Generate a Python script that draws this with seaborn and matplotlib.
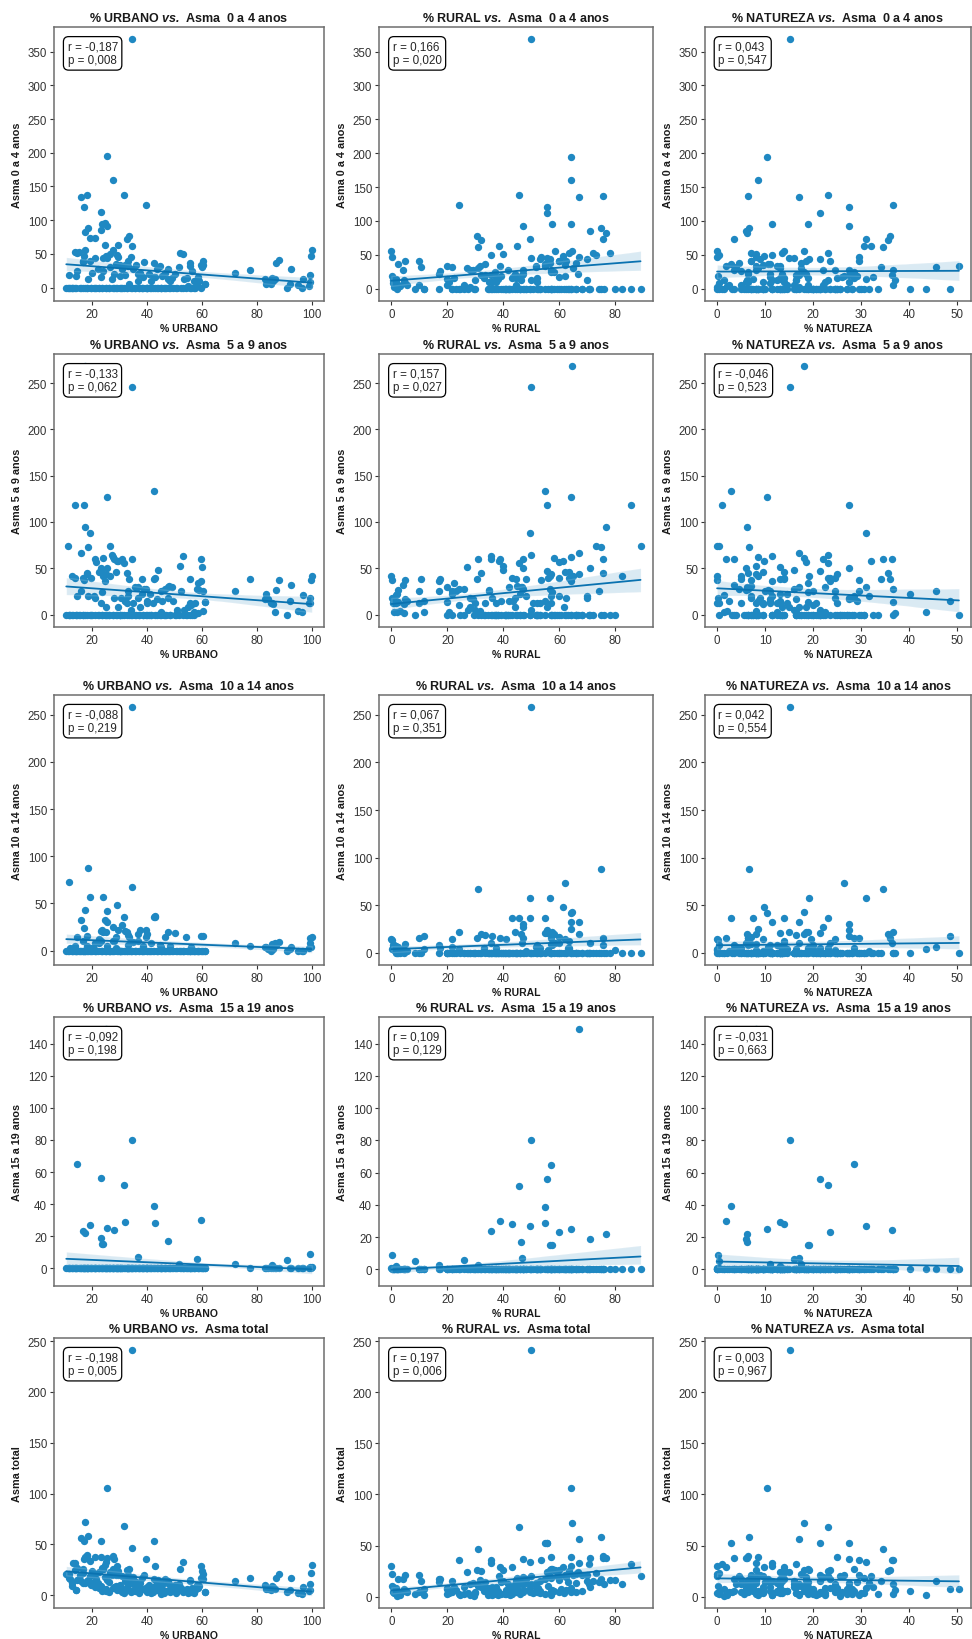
import seaborn as sns
import pandas as pd
import matplotlib.pyplot as plt

# one value per municipality, same order in every list
urbano = [
    34.5, 25.5, 27.5, 17.5, 31.5, 18.5, 16.0, 17.0, 42.5, 23.0,
    34.5, 39.5, 17.3, 19.0, 11.0, 26.5, 13.5, 11.5, 24.0, 29.0,
    25.0, 14.5, 18.0, 43.0, 59.5, 32.0, 28.0, 16.5, 23.0, 47.5,
    23.5, 36.5, 58.0, 24.5, 25.5, 13.5, 21.0, 32.5, 33.5, 29.5,
    100.0, 99.8, 99.5, 99.3, 99.0, 97.0, 96.5, 95.0, 92.5, 92.0,
    91.0, 88.0, 87.0, 86.5, 86.0, 85.5, 85.0, 84.0, 83.5, 83.0,
    77.5, 72.0, 38.0, 45.0, 33.0, 40.0, 30.0, 12.5, 60.5, 55.5,
    58.5, 61.0, 10.5, 12.0, 13.0, 14.0, 14.5, 15.0, 15.5, 16.0,
    16.5, 17.0, 17.5, 18.0, 18.5, 19.0, 19.5, 20.0, 20.5, 21.0,
    21.5, 22.0, 22.5, 23.0, 23.5, 24.0, 24.5, 25.0, 25.5, 26.0,
    26.5, 27.0, 27.5, 28.0, 28.5, 29.0, 29.5, 30.0, 30.5, 31.0,
    31.5, 32.0, 32.5, 33.0, 33.5, 34.0, 34.5, 35.0, 35.5, 36.0,
    36.5, 37.0, 37.5, 38.0, 38.5, 39.0, 39.5, 40.0, 40.5, 41.0,
    41.5, 42.0, 42.5, 43.0, 43.5, 44.0, 44.5, 45.0, 45.5, 46.0,
    46.5, 47.0, 47.5, 48.0, 48.5, 49.0, 49.5, 50.0, 51.0, 51.5,
    52.0, 52.5, 53.0, 53.5, 54.0, 54.5, 55.0, 55.5, 56.0, 56.5,
    57.0, 57.5, 58.5, 59.0, 59.5, 60.0, 60.5, 61.0, 11.5, 14.0,
    16.5, 18.0, 19.5, 21.0, 22.5, 23.5, 25.0, 26.0, 27.5, 28.5,
    30.0, 31.0, 32.5, 34.0, 35.5, 37.0, 38.5, 40.0, 41.5, 43.5,
    45.0, 46.5, 48.5, 50.5, 53.0, 55.5, 57.0, 12.5,
]
rural = [
    50.0, 64.2, 64.0, 64.5, 45.5, 74.8, 67.0, 55.5, 54.7, 55.5,
    31.0, 24.0, 76.5, 49.5, 89.0, 73.0, 85.5, 62.0, 56.8, 61.2,
    67.0, 57.0, 75.5, 43.0, 38.7, 55.0, 35.7, 60.0, 71.0, 46.2,
    57.5, 46.5, 26.0, 64.0, 47.0, 63.5, 75.5, 32.0, 30.5, 38.5,
    0.0, 0.2, 0.3, 0.4, 1.0, 1.5, 2.0, 3.0, 4.0, 5.5,
    8.5, 5.0, 2.5, 1.0, 4.5, 1.5, 10.0, 5.0, 2.0, 0.5,
    17.5, 17.0, 21.8, 11.5, 21.5, 11.5, 19.7, 82.5, 10.0, 10.5,
    4.5, 2.5, 68.0, 80.0, 70.5, 60.0, 72.0, 78.0, 59.0, 74.0,
    66.0, 53.5, 76.0, 57.0, 70.0, 62.5, 56.0, 66.5, 48.0, 70.0,
    60.0, 41.5, 63.5, 52.0, 68.0, 58.0, 45.0, 61.5, 53.0, 40.5,
    65.0, 50.0, 58.5, 44.0, 62.0, 49.5, 55.5, 37.5, 62.5, 47.0,
    57.0, 39.0, 53.0, 60.0, 44.5, 50.0, 35.5, 57.0, 42.0, 51.5,
    36.0, 55.0, 44.0, 48.0, 33.0, 56.5, 41.0, 50.5, 32.0, 46.0,
    52.0, 37.5, 44.5, 49.5, 29.0, 40.0, 51.5, 35.0, 43.5, 24.5,
    47.0, 36.5, 28.0, 45.0, 37.5, 20.0, 42.0, 33.5, 27.5, 31.0,
    40.0, 23.0, 35.5, 30.0, 21.5, 38.0, 28.0, 33.5, 24.0, 37.0,
    20.5, 30.0, 22.5, 35.0, 17.0, 27.0, 31.5, 20.0, 75.0, 66.0,
    70.5, 63.0, 71.0, 52.0, 57.5, 46.0, 57.0, 66.0, 47.5, 52.5,
    64.0, 41.0, 60.5, 39.0, 53.0, 42.5, 58.0, 43.0, 36.0, 47.0,
    29.5, 40.5, 46.0, 38.0, 26.0, 41.5, 34.5, 64.0,
]
natureza = [
    15.2, 10.3, 8.5, 18.0, 23.0, 6.7, 17.0, 27.5, 2.8, 21.5,
    34.5, 36.5, 6.2, 31.0, 0.0, 0.5, 1.0, 26.5, 19.2, 9.8,
    8.0, 28.5, 6.5, 14.0, 1.8, 13.0, 36.3, 23.5, 6.0, 6.3,
    19.0, 17.0, 16.0, 11.5, 27.5, 23.0, 3.5, 35.5, 36.0, 32.0,
    0.0, 0.0, 0.2, 0.3, 0.0, 1.5, 1.5, 2.0, 3.5, 2.5,
    0.5, 7.0, 10.5, 12.5, 9.5, 13.0, 5.0, 11.0, 14.5, 16.5,
    5.0, 11.0, 40.2, 43.5, 45.5, 48.5, 50.3, 5.0, 29.5, 34.0,
    37.0, 36.5, 21.5, 8.0, 16.5, 26.0, 13.5, 7.0, 25.5, 10.0,
    17.5, 29.5, 6.5, 25.0, 11.5, 18.5, 24.5, 13.5, 31.5, 9.0,
    18.5, 36.5, 14.0, 25.0, 8.5, 18.0, 30.5, 13.5, 21.5, 33.5,
    8.5, 23.0, 14.0, 28.0, 9.5, 21.5, 15.0, 32.5, 7.0, 22.0,
    11.5, 29.0, 14.5, 7.0, 22.0, 16.0, 30.0, 8.0, 22.5, 12.5,
    27.5, 8.0, 18.5, 14.0, 28.5, 4.5, 19.5, 9.5, 27.5, 13.0,
    6.5, 20.5, 13.0, 7.5, 27.5, 16.0, 4.0, 20.0, 11.0, 29.5,
    6.5, 16.5, 24.5, 7.0, 14.0, 31.0, 8.5, 16.5, 21.5, 17.5,
    8.0, 24.5, 11.5, 16.5, 24.5, 7.5, 17.0, 11.0, 20.0, 6.5,
    22.5, 12.5, 19.0, 6.0, 23.5, 13.0, 8.0, 19.0, 13.5, 20.0,
    13.0, 19.0, 9.5, 27.0, 20.0, 30.5, 18.0, 8.0, 25.0, 19.0,
    6.0, 28.0, 7.0, 27.0, 11.5, 20.5, 3.5, 17.0, 22.5, 9.5,
    25.5, 13.0, 5.5, 11.5, 21.0, 3.0, 8.5, 23.5,
]
asma_0_4 = [
    368, 195, 160, 55, 138, 89, 135, 120, 36, 112,
    62, 123, 82, 73, 0, 50, 0, 18, 44, 48,
    47, 24, 137, 16, 33, 34, 20, 40, 85, 12,
    95, 20, 5, 96, 92, 53, 73, 72, 77, 63,
    55, 47, 18, 8, 3, 12, 0, 4, 27, 5,
    0, 41, 36, 12, 10, 14, 5, 8, 5, 12,
    26, 21, 0, 0, 32, 0, 33, 0, 40, 32,
    12, 5, 0, 0, 0, 17, 52, 53, 0, 0,
    38, 47, 0, 0, 12, 40, 0, 21, 0, 44,
    0, 27, 0, 15, 0, 25, 63, 0, 44, 0,
    30, 12, 56, 0, 35, 0, 45, 17, 0, 27,
    0, 18, 0, 40, 5, 45, 0, 28, 0, 33,
    10, 0, 22, 0, 16, 38, 0, 0, 20, 0,
    10, 0, 15, 0, 28, 0, 32, 0, 17, 0,
    22, 0, 27, 0, 10, 14, 0, 20, 0, 30,
    51, 0, 50, 12, 0, 14, 3, 36, 0, 25,
    9, 0, 15, 9, 0, 30, 33, 5, 0, 0,
    0, 0, 0, 0, 0, 0, 0, 0, 0, 0,
    0, 0, 0, 0, 0, 0, 0, 0, 0, 0,
    0, 0, 0, 0, 0, 0, 0, 0,
]
asma_5_9 = [
    246, 127, 62, 268, 56, 73, 66, 118, 133, 47,
    60, 28, 95, 88, 74, 74, 118, 0, 42, 58,
    44, 20, 45, 40, 60, 15, 60, 40, 50, 30,
    24, 30, 28, 36, 50, 40, 60, 45, 38, 58,
    42, 37, 18, 13, 13, 21, 3, 4, 32, 15,
    0, 37, 27, 3, 11, 13, 12, 17, 22, 17,
    38, 26, 22, 3, 25, 15, 0, 42, 25, 38,
    2, 14, 0, 0, 0, 0, 0, 0, 0, 26,
    0, 37, 0, 44, 20, 0, 40, 0, 20, 18,
    57, 0, 46, 12, 0, 61, 0, 8, 0, 0,
    42, 64, 0, 18, 46, 0, 8, 0, 18, 60,
    0, 15, 12, 20, 0, 5, 0, 12, 30, 0,
    18, 0, 8, 38, 0, 28, 0, 13, 0, 22,
    0, 13, 38, 0, 17, 48, 0, 25, 15, 0,
    28, 0, 18, 31, 0, 30, 15, 0, 5, 0,
    52, 25, 63, 5, 0, 0, 8, 13, 10, 0,
    3, 12, 34, 27, 36, 51, 4, 14, 0, 0,
    0, 0, 0, 0, 0, 0, 0, 0, 0, 0,
    0, 0, 0, 0, 0, 0, 0, 0, 0, 0,
    0, 0, 0, 0, 0, 0, 0, 0,
]
asma_10_14 = [
    258, 42, 25, 43, 36, 88, 32, 24, 36, 21,
    67, 22, 0, 57, 0, 0, 0, 73, 57, 48,
    20, 15, 16, 36, 16, 21, 10, 10, 10, 20,
    22, 10, 0, 32, 30, 5, 8, 20, 15, 0,
    14, 4, 13, 8, 3, 0, 0, 0, 4, 2,
    0, 9, 6, 8, 2, 7, 0, 2, 4, 4,
    5, 8, 0, 4, 6, 18, 0, 0, 16, 0,
    0, 0, 0, 3, 0, 0, 0, 0, 0, 0,
    0, 0, 0, 0, 0, 0, 3, 0, 2, 0,
    0, 0, 12, 0, 0, 20, 0, 0, 5, 0,
    0, 0, 10, 0, 14, 0, 22, 0, 0, 27,
    0, 0, 0, 17, 0, 0, 0, 9, 0, 0,
    18, 0, 22, 0, 5, 0, 14, 0, 0, 0,
    8, 0, 0, 37, 0, 0, 6, 0, 0, 0,
    15, 0, 0, 0, 5, 0, 0, 19, 0, 0,
    0, 0, 0, 0, 14, 0, 0, 0, 4, 0,
    0, 0, 0, 0, 0, 0, 0, 0, 0, 0,
    0, 5, 0, 0, 8, 0, 0, 0, 0, 3,
    0, 0, 0, 0, 0, 0, 0, 0, 0, 0,
    0, 0, 0, 0, 0, 0, 0, 0,
]
asma_15_19 = [
    80, 25, 0, 0, 52, 0, 0, 0, 39, 56,
    0, 0, 22, 27, 0, 0, 0, 0, 15, 0,
    149, 65, 0, 28, 30, 29, 24, 23, 19, 17,
    15, 7, 6, 0, 0, 0, 0, 0, 0, 0,
    1, 0, 9, 1, 0, 0, 0, 0, 0, 0,
    5, 0, 0, 0, 0, 2, 0, 0, 0, 0,
    0, 3, 0, 0, 0, 0, 0, 0, 0, 0,
    0, 0, 0, 0, 0, 0, 0, 0, 0, 0,
    0, 0, 0, 0, 0, 0, 0, 0, 0, 0,
    0, 0, 0, 0, 0, 0, 0, 0, 0, 0,
    0, 0, 0, 0, 0, 0, 0, 0, 0, 0,
    0, 0, 0, 0, 0, 0, 0, 0, 0, 0,
    0, 0, 0, 0, 0, 0, 0, 0, 0, 0,
    0, 0, 0, 0, 0, 0, 0, 0, 0, 0,
    0, 0, 0, 0, 0, 0, 0, 0, 0, 3,
    0, 0, 0, 0, 0, 0, 0, 0, 0, 0,
    0, 0, 0, 0, 0, 0, 0, 0, 0, 0,
    0, 0, 0, 0, 0, 0, 0, 0, 0, 0,
    0, 0, 0, 0, 0, 0, 0, 0, 0, 0,
    0, 0, 0, 0, 0, 0, 0, 0,
]
asma_total = [
    241, 106, 39, 72, 68, 58, 56, 53, 53, 53,
    47, 36, 38, 34, 20, 23, 32, 21, 26, 29,
    33, 27, 40, 29, 29, 17, 36, 26, 38, 14,
    27, 12, 10, 30, 37, 25, 38, 25, 26, 20,
    30, 22, 11, 5, 4, 8, 1, 2, 17, 5,
    3, 21, 17, 6, 8, 9, 5, 6, 6, 10,
    17, 14, 6, 2, 15, 8, 8, 12, 21, 15,
    7, 3, 21, 16, 32, 5, 15, 16, 20, 14,
    22, 36, 12, 39, 15, 19, 11, 24, 13, 21,
    16, 12, 23, 9, 6, 26, 18, 4, 15, 3,
    21, 20, 26, 8, 20, 5, 24, 10, 7, 19,
    2, 14, 6, 20, 5, 12, 4, 18, 9, 13,
    10, 3, 12, 17, 6, 20, 7, 4, 10, 6,
    5, 3, 16, 9, 13, 15, 12, 8, 10, 2,
    16, 4, 12, 11, 6, 9, 5, 10, 4, 11,
    26, 7, 33, 4, 5, 6, 2, 14, 3, 7,
    4, 5, 10, 9, 17, 24, 16, 3, 17, 5,
    12, 14, 10, 8, 7, 4, 6, 13, 7, 9,
    5, 3, 8, 3, 4, 2, 6, 3, 2, 5,
    1, 4, 3, 2, 3, 5, 2, 9,
]

# r / p shown in the boxes (rows: age groups, cols: urbano, rural, natureza)
r_text = [['-0,187', '0,166', '0,043'],
          ['-0,133', '0,157', '-0,046'],
          ['-0,088', '0,067', '0,042'],
          ['-0,092', '0,109', '-0,031'],
          ['-0,198', '0,197', '0,003']]
p_text = [['0,008', '0,020', '0,547'],
          ['0,062', '0,027', '0,523'],
          ['0,219', '0,351', '0,554'],
          ['0,198', '0,129', '0,663'],
          ['0,005', '0,006', '0,967']]

x_cols = ['urbano', 'rural', 'natureza']
x_labels = ['% URBANO', '% RURAL', '% NATUREZA']
x_ticks = [[20, 40, 60, 80, 100], [0, 20, 40, 60, 80], [0, 10, 20, 30, 40, 50]]
y_cols = ['a04', 'a59', 'a1014', 'a1519', 'total']
y_labels = ['Asma 0 a 4 anos', 'Asma 5 a 9 anos', 'Asma 10 a 14 anos',
            'Asma 15 a 19 anos', 'Asma total']
y_titles = ['Asma  0 a 4 anos', 'Asma  5 a 9 anos', 'Asma  10 a 14 anos',
            'Asma  15 a 19 anos', 'Asma total']
y_ticks = [[0, 50, 100, 150, 200, 250, 300, 350],
           [0, 50, 100, 150, 200, 250],
           [0, 50, 100, 150, 200, 250],
           [0, 20, 40, 60, 80, 100, 120, 140],
           [0, 50, 100, 150, 200, 250]]

df = pd.DataFrame({'urbano': urbano, 'rural': rural, 'natureza': natureza,
                   'a04': asma_0_4, 'a59': asma_5_9, 'a1014': asma_10_14,
                   'a1519': asma_15_19, 'total': asma_total})

sns.set_theme(style='ticks')
plt.rcParams['font.family'] = ['Liberation Sans', 'DejaVu Sans']
plt.rcParams['mathtext.fontset'] = 'custom'
plt.rcParams['mathtext.rm'] = 'Liberation Sans:bold'
plt.rcParams['mathtext.bfit'] = 'Liberation Sans:italic:bold'

dot_blue = '#1f88c2'
line_blue = '#0a72b0'

# panel boxes in pixels
col_px = [(54, 324), (379, 653), (705, 971)]
row_px = [(28, 302), (355, 628), (696, 966), (1018, 1287), (1339, 1609)]
W, H = 972, 1640

fig = plt.figure(figsize=(W / 100, H / 100), dpi=100)
fig.patch.set_facecolor('white')

for i in range(5):
    for j in range(3):
        l, r = col_px[j]
        t, b = row_px[i]
        ax = fig.add_axes([l / W, 1 - b / H, (r - l) / W, (b - t) / H])
        sns.regplot(data=df, x=x_cols[j], y=y_cols[i], ax=ax, seed=1,
                    color=dot_blue,
                    scatter_kws=dict(s=28, linewidths=0, alpha=1, color=dot_blue),
                    line_kws=dict(lw=1.3, color=line_blue))
        ax.set_xticks(x_ticks[j])
        ax.set_yticks(y_ticks[i])
        ax.set_xlabel(x_labels[j], fontsize=7.5, fontweight='bold', labelpad=2,
                      color='#1a1a1a')
        ax.set_ylabel(y_labels[i], fontsize=7.8, fontweight='bold', labelpad=4,
                      color='#1a1a1a')
        ax.set_title(x_labels[j] + r' $\mathbfit{vs.}$' + ' ' + y_titles[i],
                     fontsize=9, fontweight='bold', pad=4, color='#1a1a1a')
        ax.tick_params(length=3, width=0.8, color='#333333', labelsize=8.3,
                       labelcolor='#333333', pad=2)
        for sp in ax.spines.values():
            sp.set_visible(True)
            sp.set_color('#6e6e6e')
            sp.set_linewidth(1.1)
        ax.text(0.05, 0.95, 'r = ' + r_text[i][j] + '\np = ' + p_text[i][j],
                transform=ax.transAxes, ha='left', va='top', fontsize=8.4,
                linespacing=1.15, zorder=10,
                bbox=dict(boxstyle='round,pad=0.35,rounding_size=0.45',
                          fc='white', ec='black', lw=0.9))

fig.savefig('out.png', dpi=100)
